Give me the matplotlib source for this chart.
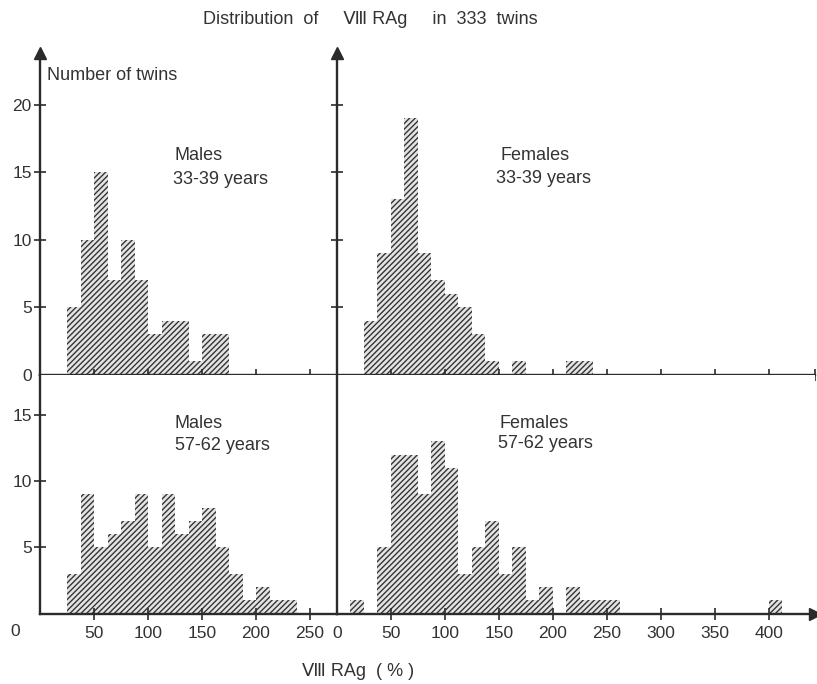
import matplotlib.pyplot as plt
import numpy as np

plt.rcParams['font.family'] = ['Liberation Sans', 'DejaVu Sans']
plt.rcParams['hatch.linewidth'] = 1.0

BIN = 12.5

# counts per 12.5 % bin
males_young_start = 25
males_young = [5, 10, 15, 7, 10, 7, 3, 4, 4, 1, 3, 3]

females_young_start = 25
females_young = [4, 9, 13, 19, 9, 7, 6, 5, 3, 1, 0, 1, 0, 0, 0, 1, 1]

males_old_start = 25
males_old = [3, 9, 5, 6, 7, 9, 5, 9, 6, 7, 8, 5, 3, 1, 2, 1, 1]

females_old_start = 12.5
females_old = [1, 0, 5, 12, 12, 9, 13, 11, 3, 5, 7, 3, 5, 1, 2, 0, 2, 1, 1, 1,
               0, 0, 0, 0, 0, 0, 0, 0, 0, 0, 0, 1]

left_xticks = [50, 100, 150, 200, 250]
right_xticks = [50, 100, 150, 200, 250, 300, 350, 400]
top_yticks = [5, 10, 15, 20]
bottom_yticks = [5, 10, 15]

INK = '#2b2b2b'
TXT = '#333333'
FS = 13
TFS = 12.5

fig = plt.figure(figsize=(8.17, 6.84), dpi=100)
W, H = 817, 684


def px_axes(x0, y0, x1, y1):
    # pixel box (top-left origin) -> figure axes
    return fig.add_axes([x0 / W, 1 - y1 / H, (x1 - x0) / W, (y1 - y0) / H])


def px_text(x, y, s, size=FS, **kw):
    fig.text(x / W, 1 - y / H, s, fontsize=size, color=TXT, va='center', **kw)


ax_tl = px_axes(40, 53, 337, 375)
ax_tr = px_axes(337, 53, 815, 375)
ax_bl = px_axes(40, 375, 337, 613.5)
ax_br = px_axes(337, 375, 815, 613.5)

panels = [
    (ax_tl, males_young_start, males_young),
    (ax_tr, females_young_start, females_young),
    (ax_bl, males_old_start, males_old),
    (ax_br, females_old_start, females_old),
]

for ax, start, counts in panels:
    left = start + BIN * np.arange(len(counts))
    ax.bar(left, counts, width=BIN, align='edge', facecolor='#e4e4e4',
           edgecolor='#353535', hatch='//////', linewidth=0)
    for s in ['top', 'right']:
        ax.spines[s].set_visible(False)
    for s in ['left', 'bottom']:
        ax.spines[s].set_color(INK)
        ax.spines[s].set_linewidth(1.7)
    ax.tick_params(direction='inout', length=8, width=1.2, color=INK,
                   labelsize=TFS, labelcolor=TXT)
    ax.tick_params(axis='x', pad=5)
    ax.tick_params(axis='y', pad=2)

for ax in (ax_tl, ax_bl):
    ax.set_xlim(0, 275)
for ax in (ax_tr, ax_br):
    ax.set_xlim(0, 442.6)
for ax in (ax_tl, ax_tr):
    ax.set_ylim(0, 23.85)
for ax in (ax_bl, ax_br):
    ax.set_ylim(0, 18)

ax_tl.set_xticks(left_xticks)
ax_tl.set_xticklabels([])
ax_tr.set_xticks(right_xticks + [442.6])
ax_tr.set_xticklabels([])
ax_bl.set_xticks(left_xticks)
ax_br.set_xticks([0] + right_xticks)

ax_tl.set_yticks([0] + top_yticks)
ax_tr.set_yticks(top_yticks)
ax_tr.set_yticklabels([])
ax_bl.set_yticks(bottom_yticks)
ax_br.set_yticks([])
# the zero ticks sit on the axis lines, hide their marks
ax_tl.yaxis.get_major_ticks()[0].tick1line.set_visible(False)
ax_br.xaxis.get_major_ticks()[0].tick1line.set_visible(False)

# lone zero under the left panel
px_text(15, 632, '0', size=TFS, ha='center')

# arrow heads
for ax in (ax_tl, ax_tr):
    ax.plot([0], [1], marker='^', markersize=9, color=INK,
            transform=ax.transAxes, clip_on=False)
ax_br.plot([1], [0], marker='>', markersize=9, color=INK,
           transform=ax_br.transAxes, clip_on=False)

# panel labels
px_text(175, 155, 'Males')
px_text(173, 179, '33-39 years')
px_text(500, 155, 'Females')
px_text(496, 178, '33-39 years')
px_text(175, 424, 'Males')
px_text(175, 445, '57-62 years')
px_text(499, 423, 'Females')
px_text(498, 444, '57-62 years')

px_text(47, 75, 'Number of twins')

px_text(370, 20, 'Distribution  of     \u2167 RAg     in  333  twins',
        ha='center')
px_text(358, 672, '\u2167 RAg  ( % )', ha='center')

fig.savefig('out.png', dpi=100)
